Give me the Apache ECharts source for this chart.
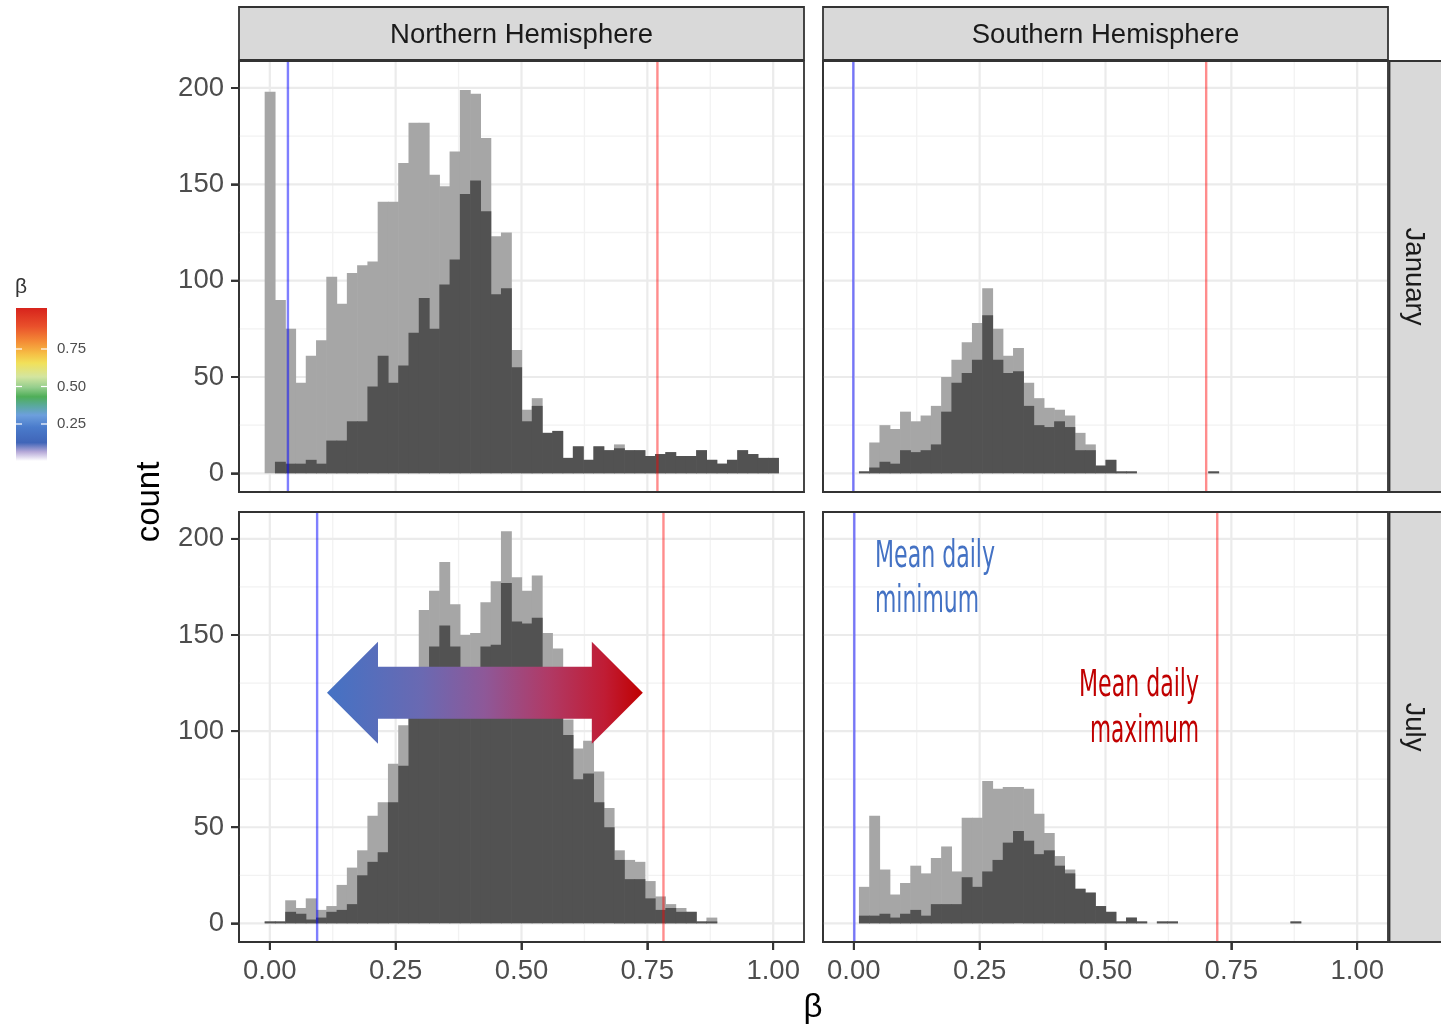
<!DOCTYPE html>
<html>
<head>
<meta charset="utf-8">
<script src="https://cdn.jsdelivr.net/npm/echarts@6/dist/echarts.min.js"></script>
<style>
  html, body { margin: 0; padding: 0; background: #ffffff; }
  #chart { width: 1441px; height: 1028px; }
</style>
</head>
<body>
<div id="chart"></div>
<script>
// ---- histogram bins: 50 equal bins with centres running from 0 to 1 ----
const binCount = 50;
const binWidth = 1 / 49;
const binCentres = Array.from({ length: binCount }, (_, i) => i / 49);

// ---- facet labels ----
const hemispheres = ['Northern Hemisphere', 'Southern Hemisphere'];
const months = ['January', 'July'];

// ---- axis breaks ----
const xTicks = [0, 0.25, 0.5, 0.75, 1];
const xMinorBreaks = [0.125, 0.375, 0.625, 0.875];
const yTicks = [0, 50, 100, 150, 200];
const yMinorBreaks = [25, 75, 125, 175];
const legendTicks = [0.25, 0.5, 0.75];

// ---- counts per bin: all cells (light) and the highlighted subset (dark) ----
const northJanAll = [198, 90, 75, 47, 61, 69, 102, 88, 104, 108, 110, 141, 141, 161, 182, 182, 155, 149, 167, 199,
  197, 174, 123, 125, 64, 33, 39, 21, 22, 8, 14, 7, 14, 12, 15, 12, 12, 9, 10, 11, 9, 9, 12, 7, 5, 7, 12, 10, 8, 8];
const northJanSub = [0, 6, 5, 5, 7, 5, 17, 17, 27, 27, 45, 61, 47, 56, 73, 91, 75, 98, 111, 145,
  152, 136, 93, 96, 55, 27, 35, 21, 22, 8, 14, 7, 14, 12, 13, 12, 12, 9, 10, 11, 9, 9, 12, 7, 5, 7, 12, 10, 8, 8];

const southJanAll = [0, 1, 16, 25, 23, 32, 27, 30, 35, 50, 59, 68, 78, 96, 75, 61, 65, 47, 39, 34,
  33, 30, 21, 15, 4, 7, 1, 1, 0, 0, 0, 0, 0, 0, 0, 1, 0, 0, 0, 0, 0, 0, 0, 0, 0, 0, 0, 0, 0, 0];
const southJanSub = [0, 1, 3, 6, 5, 12, 11, 12, 15, 32, 47, 52, 59, 82, 59, 52, 53, 35, 25, 24,
  27, 24, 12, 12, 4, 7, 1, 1, 0, 0, 0, 0, 0, 0, 0, 1, 0, 0, 0, 0, 0, 0, 0, 0, 0, 0, 0, 0, 0, 0];

const northJulAll = [1, 1, 12, 8, 13, 7, 9, 20, 29, 38, 56, 63, 83, 103, 128, 163, 173, 188, 166, 150,
  151, 167, 178, 204, 180, 173, 181, 151, 143, 106, 91, 95, 79, 60, 38, 33, 32, 22, 14, 10, 8, 6, 1, 3, 0, 0, 0, 0, 0, 0];
const northJulSub = [1, 1, 6, 5, 2, 3, 6, 7, 10, 25, 32, 37, 63, 82, 112, 122, 144, 155, 144, 125,
  128, 144, 145, 177, 157, 156, 159, 128, 118, 98, 75, 78, 63, 50, 33, 23, 23, 13, 7, 8, 6, 6, 1, 1, 0, 0, 0, 0, 0, 0];

const southJulAll = [0, 19, 56, 28, 15, 21, 30, 26, 34, 40, 27, 55, 55, 74, 70, 71, 71, 70, 57, 47,
  35, 28, 18, 16, 9, 6, 1, 3, 1, 0, 1, 1, 0, 0, 0, 0, 0, 0, 0, 0, 0, 0, 0, 1, 0, 0, 0, 0, 0, 0];
const southJulSub = [0, 4, 4, 5, 3, 5, 7, 4, 10, 10, 10, 24, 19, 27, 33, 42, 48, 43, 36, 38,
  30, 26, 18, 16, 9, 6, 1, 3, 1, 0, 1, 1, 0, 0, 0, 0, 0, 0, 0, 0, 0, 0, 0, 1, 0, 0, 0, 0, 0, 0];

// ---- mean daily minimum / maximum of beta, panel order: N-Jan, S-Jan, N-Jul, S-Jul ----
const meanDailyMin = [0.036, -0.001, 0.094, 0.001];
const meanDailyMax = [0.770, 0.700, 0.782, 0.722];

// ---- styling / layout ----
const FONT = "'Liberation Sans', Arial, Helvetica, sans-serif";
const NARROW = "'Liberation Sans Narrow', 'DejaVu Sans Condensed', 'Liberation Sans', sans-serif";
const LIGHT = '#A6A6A6';
const DARK = '#525252';
const X_MIN = -0.0612, X_MAX = 1.0612;
const Y_MIN = -9.7, Y_MAX = 214;
const TICK_LEN = 8;
const TICK_W = 2;

const panelBoxes = [
  { left: 239, top: 61, width: 565, height: 431 },
  { left: 823, top: 61, width: 565, height: 431 },
  { left: 239, top: 512, width: 565, height: 430 },
  { left: 823, top: 512, width: 565, height: 430 }
];
const panelData = [
  { all: northJanAll, sub: northJanSub },
  { all: southJanAll, sub: southJanSub },
  { all: northJulAll, sub: northJulSub },
  { all: southJulAll, sub: southJulSub }
];

const chart = echarts.init(document.getElementById('chart'), null, { renderer: 'canvas' });

function histogramSeries(counts, idx, colour, z) {
  return {
    type: 'custom', xAxisIndex: idx, yAxisIndex: idx, z, silent: true,
    encode: { x: [0, 1], y: 2 },
    data: counts.map((c, i) => [binCentres[i] - binWidth / 2, binCentres[i] + binWidth / 2, c]),
    renderItem(params, api) {
      const c = api.value(2);
      if (!c) return null;
      const a = api.coord([api.value(0), c]);
      const b = api.coord([api.value(1), 0]);
      return {
        type: 'rect',
        shape: { x: a[0], y: a[1], width: b[0] - a[0] + 0.6, height: b[1] - a[1] },
        style: { fill: colour }
      };
    }
  };
}

// panel background grid (major and minor breaks)
function gridLineSeries(idx) {
  return {
    type: 'custom', xAxisIndex: idx, yAxisIndex: idx, z: 1, silent: true,
    data: [[0, 0]],
    renderItem(params, api) {
      const cs = params.coordSys;
      const kids = [];
      const vline = (v, w, col) => {
        const x = api.coord([v, 0])[0];
        kids.push({ type: 'line', shape: { x1: x, y1: cs.y, x2: x, y2: cs.y + cs.height }, style: { stroke: col, lineWidth: w } });
      };
      const hline = (v, w, col) => {
        const y = api.coord([0, v])[1];
        kids.push({ type: 'line', shape: { x1: cs.x, y1: y, x2: cs.x + cs.width, y2: y }, style: { stroke: col, lineWidth: w } });
      };
      xMinorBreaks.forEach(v => vline(v, 1.3, '#F2F2F2'));
      yMinorBreaks.forEach(v => hline(v, 1.3, '#F2F2F2'));
      xTicks.forEach(v => vline(v, 2.2, '#EBEBEB'));
      yTicks.forEach(v => hline(v, 2.2, '#EBEBEB'));
      return { type: 'group', children: kids };
    }
  };
}

function refLineSeries(value, idx, colour) {
  return {
    type: 'custom', xAxisIndex: idx, yAxisIndex: idx, z: 5, silent: true,
    data: [[value, 0]],
    renderItem(params, api) {
      const cs = params.coordSys;
      const x = api.coord([api.value(0), 0])[0];
      return { type: 'line', shape: { x1: x, y1: cs.y, x2: x, y2: cs.y + cs.height }, style: { stroke: colour, lineWidth: 2.4 } };
    }
  };
}

const series = [];
panelData.forEach((p, i) => {
  series.push(gridLineSeries(i));
  series.push(histogramSeries(p.all, i, LIGHT, 2));
  series.push(histogramSeries(p.sub, i, DARK, 3));
  series.push(refLineSeries(meanDailyMin[i], i, 'rgba(0,0,255,0.5)'));
  series.push(refLineSeries(meanDailyMax[i], i, 'rgba(255,0,0,0.45)'));
});

const labelStyle = { fontSize: 27.5, color: '#4D4D4D', fontFamily: FONT };
const edgeLine = { show: true, onZero: false, lineStyle: { color: '#333333', width: 1.8 } };
const tickStyle = { length: TICK_LEN, inside: false, lineStyle: { color: '#333333', width: 1.8 } };

chart.setOption({
  animation: false,
  backgroundColor: '#ffffff',
  grid: panelBoxes.map(b => ({ ...b, containLabel: false, show: true, backgroundColor: '#ffffff', borderWidth: 0 })),
  xAxis: panelBoxes.map((b, i) => ({
    type: 'value', gridIndex: i, min: X_MIN, max: X_MAX, position: 'bottom',
    axisLine: edgeLine,
    splitLine: { show: false },
    axisTick: { show: i >= 2, customValues: xTicks, ...tickStyle },
    axisLabel: { show: i >= 2, customValues: xTicks, margin: 15, formatter: v => v.toFixed(2), ...labelStyle }
  })),
  yAxis: panelBoxes.map((b, i) => ({
    type: 'value', gridIndex: i, min: Y_MIN, max: Y_MAX, position: 'left',
    axisLine: edgeLine,
    splitLine: { show: false },
    axisTick: { show: i % 2 === 0, customValues: yTicks, ...tickStyle },
    axisLabel: { show: i % 2 === 0, customValues: yTicks, margin: 15, ...labelStyle }
  })),
  series
});

// ---- decorations: panel borders, tick marks, facet strips, titles, colour legend, annotations ----
const graphics = [];

panelBoxes.forEach((b, i) => {
  graphics.push({ type: 'rect', z: 50, silent: true,
    shape: { x: b.left, y: b.top, width: b.width, height: b.height },
    style: { fill: 'none', stroke: '#333333', lineWidth: 1.8 } });
  // outside tick marks on the labelled edges, placed through the panel's scales
  if (i % 2 === 0) {
    yTicks.forEach(v => {
      const y = chart.convertToPixel({ gridIndex: i }, [0, v])[1];
      graphics.push({ type: 'rect', z: 60, silent: true,
        shape: { x: b.left - TICK_LEN, y: y - TICK_W / 2, width: TICK_LEN, height: TICK_W },
        style: { fill: '#333333' } });
    });
  }
  if (i >= 2) {
    xTicks.forEach(v => {
      const x = chart.convertToPixel({ gridIndex: i }, [v, 0])[0];
      graphics.push({ type: 'rect', z: 60, silent: true,
        shape: { x: x - TICK_W / 2, y: b.top + b.height, width: TICK_W, height: TICK_LEN },
        style: { fill: '#333333' } });
    });
  }
});

// column strips
hemispheres.forEach((name, c) => {
  const b = panelBoxes[c];
  graphics.push({ type: 'rect', z: 50, silent: true,
    shape: { x: b.left, y: 7, width: b.width, height: 53 },
    style: { fill: '#D9D9D9', stroke: '#333333', lineWidth: 1.8 } });
  graphics.push({ type: 'text', z: 51, silent: true, x: b.left + b.width / 2, y: 35,
    style: { text: name, fontSize: 27.5, fontFamily: FONT, fill: '#1A1A1A', align: 'center', verticalAlign: 'middle' } });
});

// row strips
months.forEach((name, r) => {
  const b = panelBoxes[r * 2 + 1];
  graphics.push({ type: 'rect', z: 50, silent: true,
    shape: { x: b.left + b.width + 1.5, y: b.top, width: 60, height: b.height },
    style: { fill: '#D9D9D9', stroke: '#333333', lineWidth: 1.8 } });
  graphics.push({ type: 'text', z: 51, silent: true, x: b.left + b.width + 26, y: b.top + b.height / 2,
    rotation: -Math.PI / 2,
    style: { text: name, fontSize: 27.5, fontFamily: FONT, fill: '#1A1A1A', align: 'center', verticalAlign: 'middle' } });
});

// axis titles
graphics.push({ type: 'text', z: 51, silent: true, x: 150, y: 502, rotation: Math.PI / 2,
  style: { text: 'count', fontSize: 33, fontFamily: FONT, fill: '#000000', align: 'center', verticalAlign: 'middle' } });
graphics.push({ type: 'text', z: 51, silent: true, x: 813, y: 1008,
  style: { text: 'β', fontSize: 33, fontFamily: FONT, fill: '#000000', align: 'center', verticalAlign: 'middle' } });

// colour bar legend for beta
const barTop = 308, barH = 153, barX = 16, barW = 31;
const legendY = v => barTop + 3.5 + (1 - v) * 150;
graphics.push({ type: 'text', z: 51, silent: true, x: 15, y: 287,
  style: { text: 'β', fontSize: 21, fontFamily: FONT, fill: '#333333', align: 'left', verticalAlign: 'middle' } });
graphics.push({ type: 'rect', z: 50, silent: true,
  shape: { x: barX, y: barTop, width: barW, height: barH },
  style: { fill: { type: 'linear', x: 0, y: 0, x2: 0, y2: 1, colorStops: [
    { offset: 0.00, color: '#D7231C' },
    { offset: 0.12, color: '#E9502B' },
    { offset: 0.22, color: '#F48C36' },
    { offset: 0.30, color: '#F6BF45' },
    { offset: 0.36, color: '#F1E15A' },
    { offset: 0.45, color: '#D3E5A0' },
    { offset: 0.52, color: '#93CD8C' },
    { offset: 0.58, color: '#4FAE58' },
    { offset: 0.64, color: '#5AA99E' },
    { offset: 0.70, color: '#6D9FDD' },
    { offset: 0.78, color: '#4A7BCB' },
    { offset: 0.88, color: '#4065B8' },
    { offset: 0.94, color: '#B6A9D8' },
    { offset: 1.00, color: '#FFFFFF' }
  ] } } });
legendTicks.forEach(v => {
  const y = legendY(v);
  graphics.push({ type: 'rect', z: 51, silent: true, shape: { x: barX, y: y - 0.6, width: 6, height: 1.2 }, style: { fill: '#ffffff' } });
  graphics.push({ type: 'rect', z: 51, silent: true, shape: { x: barX + barW - 6, y: y - 0.6, width: 6, height: 1.2 }, style: { fill: '#ffffff' } });
  graphics.push({ type: 'text', z: 51, silent: true, x: 57, y: y,
    style: { text: v.toFixed(2), fontSize: 15, fontFamily: FONT, fill: '#4D4D4D', align: 'left', verticalAlign: 'middle' } });
});

// double-headed arrow spanning the July northern distribution (anchored in data units)
const arrowFrom = chart.convertToPixel({ gridIndex: 2 }, [0.1136, 120]);
const arrowTo = chart.convertToPixel({ gridIndex: 2 }, [0.741, 120]);
{
  const cy = arrowFrom[1], x0 = arrowFrom[0], x1 = arrowTo[0];
  const body = 26, head = 51, headLen = 51;
  graphics.push({ type: 'polygon', z: 40, silent: true,
    shape: { points: [
      [x0, cy], [x0 + headLen, cy - head], [x0 + headLen, cy - body],
      [x1 - headLen, cy - body], [x1 - headLen, cy - head], [x1, cy],
      [x1 - headLen, cy + head], [x1 - headLen, cy + body],
      [x0 + headLen, cy + body], [x0 + headLen, cy + head]
    ] },
    style: { fill: { type: 'linear', x: 0, y: 0, x2: 1, y2: 0, colorStops: [
      { offset: 0.00, color: '#4472C4' },
      { offset: 0.30, color: '#6A69B2' },
      { offset: 0.50, color: '#8E5898' },
      { offset: 0.70, color: '#B03A66' },
      { offset: 0.88, color: '#C01C34' },
      { offset: 1.00, color: '#C00000' }
    ] } } });
}

// narrow annotation text, squeezed horizontally to the set width
const measureCtx = document.createElement('canvas').getContext('2d');
function squeeze(text, size, width) {
  measureCtx.font = size + 'px ' + NARROW;
  return width / measureCtx.measureText(text).width;
}
function note(text, x, baseline, width, colour, align) {
  const size = 37;
  graphics.push({ type: 'text', z: 52, silent: true, x: x, y: baseline - 0.36 * size,
    scaleX: squeeze(text, size, width),
    style: { text: text, fontSize: size, fontFamily: NARROW, fill: colour, align: align, verticalAlign: 'middle' } });
}
note('Mean daily', 875, 571, 120, '#4472C4', 'left');
note('minimum', 875, 616, 104, '#4472C4', 'left');
note('Mean daily', 1199, 700, 120, '#C00000', 'right');
note('maximum', 1199, 746, 109, '#C00000', 'right');

chart.setOption({ graphic: graphics });
</script>
</body>
</html>
